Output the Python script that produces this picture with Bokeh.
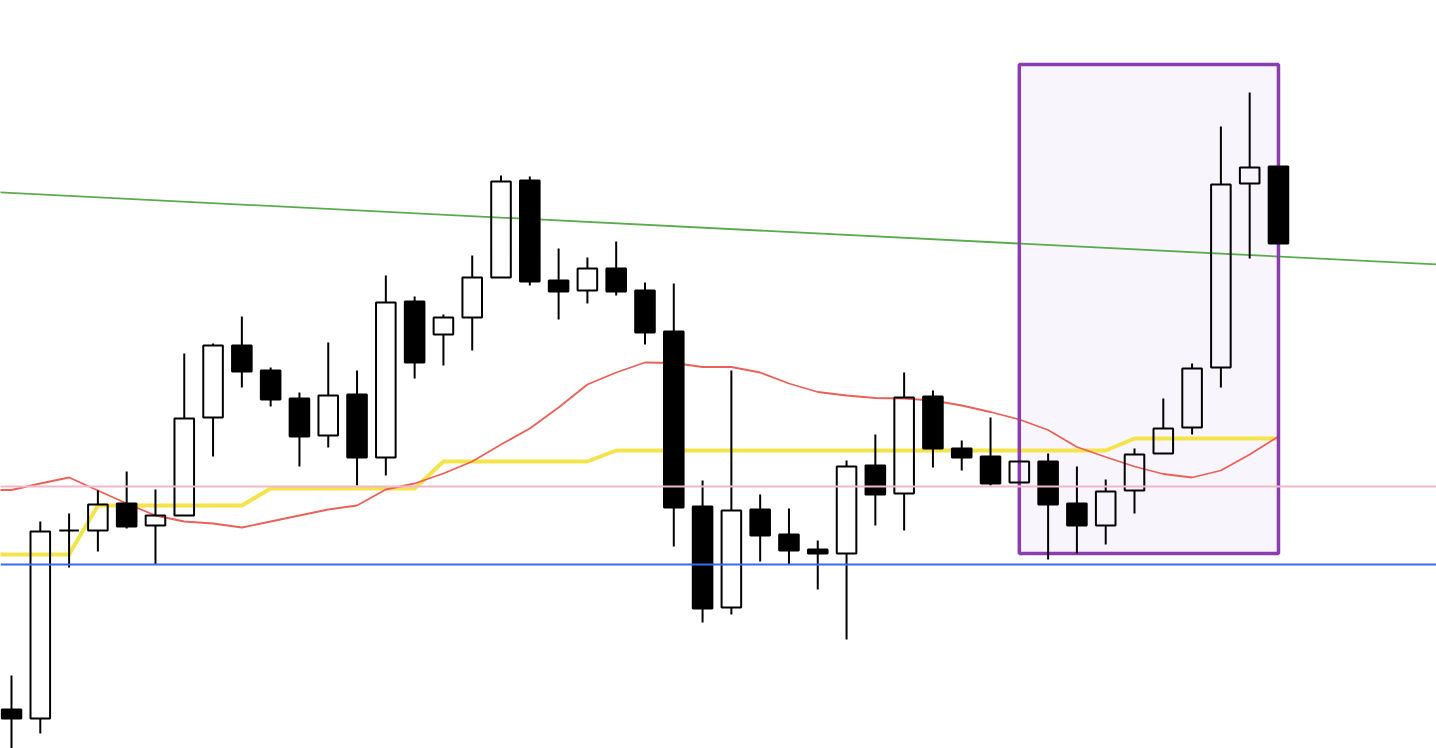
from bokeh.plotting import figure
from bokeh.models import Range1d, Span
from bokeh.embed import file_html
from bokeh.resources import INLINE

# ---- data (price units) ----
opens  = [39, 30, 218, 218, 245, 223, 233, 331, 403, 378, 350, 313, 354, 291, 447, 414, 431, 471, 568, 468,
          458, 480, 458, 417, 242, 141, 239, 214, 199, 195, 283, 255, 352, 300, 292, 266, 287, 245, 223, 258,
          295, 321, 381, 565, 582]
highs  = [73, 227, 235, 258, 277, 259, 395, 405, 432, 381, 356, 406, 378, 473, 452, 434, 493, 573, 572, 500,
          491, 507, 466, 465, 268, 378, 254, 240, 208, 288, 314, 376, 358, 308, 331, 287, 295, 282, 269, 300,
          350, 385, 622, 656, 582]
lows   = [-4, 15, 181, 197, 220, 184, 233, 292, 361, 342, 282, 301, 263, 273, 370, 383, 398, 471, 463, 429,
          445, 453, 404, 202, 126, 134, 187, 184, 159, 109, 223, 218, 281, 278, 263, 266, 189, 195, 204, 235,
          295, 314, 361, 490, 505]
closes = [30, 217, 218, 244, 222, 233, 330, 403, 377, 349, 312, 353, 291, 446, 386, 431, 471, 567, 467, 457,
          480, 457, 416, 241, 140, 238, 213, 198, 195, 282, 254, 351, 300, 291, 265, 287, 244, 223, 257, 294,
          320, 380, 564, 581, 505]

# indicator values start one bar before the first visible candle
ma_red = [258.5, 258.5, 265, 271, 258, 245, 233, 227, 225, 221, 227, 233, 239, 243, 259, 265, 275, 287, 304, 320, 341,
          364, 376, 386, 385.5, 381.5, 381.5, 376, 365, 356.5, 353, 350.5, 350, 348, 343, 336.5, 329, 318.5, 301.5,
          291.5, 282, 274.5, 271, 278, 294, 312]
base_yellow = [194, 194, 194, 194, 243, 243, 243, 243, 243, 243, 260, 260, 260, 260, 260, 260, 287, 287, 287, 287, 287,
               287, 298, 298, 298, 298, 298, 298, 298, 298, 298, 298, 298, 298, 298, 298, 298, 298, 298, 298, 310,
               310, 310, 310, 310, 310]

support_level = 184      # blue
pink_level = 262         # pink
trend_x = [-1, 50]       # green trendline
trend_y = [556.9, 483.3]
box_left, box_right, box_top, box_bottom = 35, 44, 684, 195

idx = list(range(len(opens)))
ind_x = list(range(-1, len(opens)))
top = [max(o, c) for o, c in zip(opens, closes)]
bot = [min(o, c) for o, c in zip(opens, closes)]

p = figure(width=1436, height=748, x_range=Range1d(-0.382, 49.488), y_range=Range1d(0, 748),
           x_axis_type=None, y_axis_type=None, output_backend="svg", toolbar_location=None,
           min_border=0, outline_line_color=None, background_fill_color="white",
           border_fill_color="white")
p.grid.visible = False

# highlight box fill
p.quad(left=[box_left], right=[box_right], top=[box_top], bottom=[box_bottom],
       fill_color="#f8f6fc", line_color=None)

# levels
p.add_layout(Span(location=support_level, dimension="width", line_color="#3d68ef", line_width=1.8))
p.add_layout(Span(location=pink_level, dimension="width", line_color="#f0b9cb", line_width=1.8))
p.line(trend_x, trend_y, line_color="#5aab4e", line_width=1.8)

p.line(ind_x, base_yellow, line_color="#f5e34c", line_width=4)
p.line(ind_x, ma_red, line_color="#eb6058", line_width=1.8)

# highlight box border
p.quad(left=[box_left], right=[box_right], top=[box_top], bottom=[box_bottom],
       fill_color=None, line_color="#8b3cad", line_width=3.5)

# wicks (outside bodies)
p.segment(x0=idx, y0=top, x1=idx, y1=highs, line_color="black", line_width=2)
p.segment(x0=idx, y0=bot, x1=idx, y1=lows, line_color="black", line_width=2)

wi = [i for i in idx if closes[i] >= opens[i]]
bi = [i for i in idx if closes[i] < opens[i]]
p.vbar(x=wi, top=[top[i] for i in wi], bottom=[bot[i] for i in wi], width=0.68,
       fill_color=None, line_color="black", line_width=2)
p.vbar(x=bi, top=[top[i] for i in bi], bottom=[bot[i] for i in bi], width=0.68,
       fill_color="black", line_color="black", line_width=2)

open("out.html", "w").write(file_html(p, INLINE))
